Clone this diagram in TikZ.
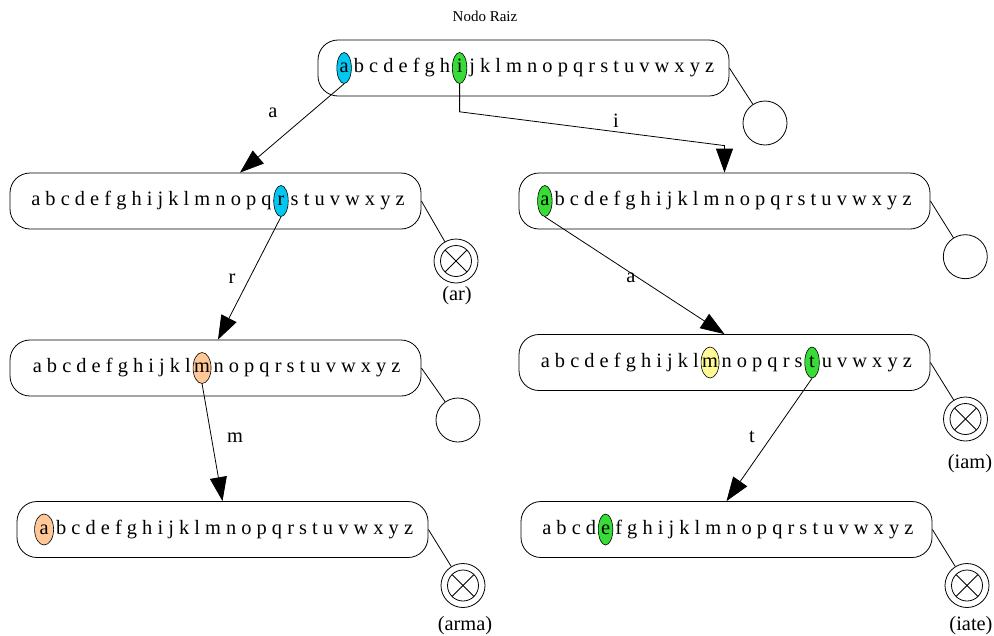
\documentclass[tikz,border=0pt]{standalone}
\usepackage{fontspec}
\setmainfont{Liberation Serif}
\usetikzlibrary{shapes.geometric,arrows.meta,calc}

\definecolor{hcyan}{RGB}{0,200,240}
\definecolor{hgreen}{RGB}{55,220,55}
\definecolor{hpeach}{RGB}{255,200,150}
\definecolor{hyellow}{RGB}{255,250,150}

\newcommand\rowfont{\fontsize{20.4}{24}\selectfont}
\newcommand\hlt[1]{\makebox[0pt]{#1}}

\begin{document}
\begin{tikzpicture}[x=1pt,y=-1pt,
  rowbox/.style={draw, line width=0.8pt, rounded corners=20pt,
    minimum width=411pt, minimum height=56pt, inner sep=0pt},
  row/.style={inner sep=0pt, font=\rowfont, anchor=base west},
  hl/.style={ellipse, draw, line width=0.6pt, minimum width=14.5pt,
    minimum height=31pt, inner sep=0pt, text height=12pt, text depth=3pt,
    font=\rowfont, anchor=base},
  wide/.style={minimum width=18pt},
  leaf/.style={circle, draw, line width=0.8pt, minimum size=44pt, inner sep=0pt},
  final/.style={leaf, path picture={
    \coordinate (pc) at (path picture bounding box.center);
    \draw[line width=0.8pt] (pc) circle[radius=15.5pt];
    \draw[line width=0.8pt] ($(pc)+(45:15.5pt)$) -- ($(pc)+(225:15.5pt)$);
    \draw[line width=0.8pt] ($(pc)+(135:15.5pt)$) -- ($(pc)+(315:15.5pt)$);}},
  link/.style={line width=0.8pt},
  edge/.style={line width=0.8pt, -{Triangle[length=24pt,width=17pt]}},
  elab/.style={font=\rowfont, inner sep=0pt},
  word/.style={font=\rowfont, inner sep=0pt},
]
\useasboundingbox (0,0) rectangle (994,635);

% title
\node[font=\fontsize{15}{18}\selectfont, inner sep=0pt] (title) at (485,16) {Nodo Raiz};

% ---------- trie nodes (boxes) ----------
\node[rowbox] (root) at (523.5,68) {};
\node[rowbox] (l1) at (215.5,201) {};
\node[rowbox] (l2) at (215.5,368) {};
\node[rowbox] (l3) at (222.5,529.5) {};
\node[rowbox] (r1) at (724.5,201) {};
\node[rowbox] (r2) at (724.5,362.5) {};
\node[rowbox] (r3) at (726.5,529.5) {};

% ---------- root row ----------
\node[hl, fill=hcyan] (ra) at ([xshift=26.5pt,yshift=-4.5pt]root.west) {\hlt{a}};
\node[row] (rt1) at ([xshift=2pt]ra.east |- ra.base) {b c d e f g h};
\node[hl, fill=hgreen] (ri) at ([xshift=9.25pt]rt1.base east) {\hlt{i}};
\node[row] (rt2) at ([xshift=2pt]ri.east |- ri.base) {j k l m n o p q r s t u v w x y z};

% ---------- left column ----------
\node[row] (l1t1) at ([xshift=21.5pt,yshift=-4.5pt]l1.west) {a b c d e f g h i j k l m n o p q};
\node[hl, fill=hcyan] (l1r) at ([xshift=9.25pt]l1t1.base east) {\hlt{r}};
\node[row] (l1t2) at ([xshift=2pt]l1r.east |- l1r.base) {s t u v w x y z};

\node[row] (l2t1) at ([xshift=23pt,yshift=-4.5pt]l2.west) {a b c d e f g h i j k l};
\node[hl, wide, fill=hpeach] (l2m) at ([xshift=11pt]l2t1.base east) {\hlt{m}};
\node[row] (l2t2) at ([xshift=2pt]l2m.east |- l2m.base) {n o p q r s t u v w x y z};

\node[hl, minimum width=19pt, fill=hpeach] (l3a) at ([xshift=27.5pt,yshift=-4.5pt]l3.west) {\hlt{a}};
\node[row] (l3t1) at ([xshift=2pt]l3a.east |- l3a.base) {b c d e f g h i j k l m n o p q r s t u v w x y z};

% ---------- right column ----------
\node[hl, fill=hgreen] (r1a) at ([xshift=26.25pt,yshift=-4.5pt]r1.west) {\hlt{a}};
\node[row] (r1t1) at ([xshift=2pt]r1a.east |- r1a.base) {b c d e f g h i j k l m n o p q r s t u v w x y z};

\node[row] (r2t1) at ([xshift=22pt,yshift=-4.5pt]r2.west) {a b c d e f g h i j k l};
\node[hl, wide, fill=hyellow] (r2m) at ([xshift=11pt]r2t1.base east) {\hlt{m}};
\node[row] (r2t2) at ([xshift=2pt]r2m.east |- r2m.base) {n o p q r s};
\node[hl, fill=hgreen] (r2t) at ([xshift=9.25pt]r2t2.base east) {\hlt{t}};
\node[row] (r2t3) at ([xshift=2pt]r2t.east |- r2t.base) {u v w x y z};

\node[row] (r3t1) at ([xshift=21.5pt,yshift=-4.5pt]r3.west) {a b c d};
\node[hl, fill=hgreen] (r3e) at ([xshift=9.25pt]r3t1.base east) {\hlt{e}};
\node[row] (r3t2) at ([xshift=2pt]r3e.east |- r3e.base) {f g h i j k l m n o p q r s t u v w x y z};

% ---------- end-of-word markers ----------
\node[leaf]  (root-end) at (765,123) {};
\node[final] (l1-end) at (456,261) {};
\node[leaf]  (l2-end) at (458,420) {};
\node[final] (l3-end) at (463,585.5) {};
\node[leaf]  (r1-end) at (965.3,256.7) {};
\node[final] (r2-end) at (965.5,419) {};
\node[final] (r3-end) at (967,585.5) {};

\node[word] (w-ar)   at (457,296) {(ar)};
\node[word] (w-arma) at (465,626) {(arma)};
\node[word] (w-iam)  at (970,464) {(iam)};
\node[word] (w-iate) at (971,626) {(iate)};

\foreach \n in {root,l1,l2,l3,r1,r2,r3}
  \draw[link] (\n.east) -- (\n-end);

% ---------- child links ----------
\draw[edge] (ra.south) -- ([xshift=24.5pt]l1.north)
  node[elab] at (273,113) {a};
\draw[edge] (ri.south) -- ++(0,28) -- ([yshift=27pt]r1.north) -- (r1.north)
  node[elab] at (616,121) {i};
\draw[edge] (l1r.south) -- ([xshift=2.5pt]l2.north)
  node[elab] at (232,279) {r};
\draw[edge] (l2m.south) -- (l3.north)
  node[elab] at (235,438) {m};
\draw[edge] (r1a.south) -- (r2.north)
  node[elab] at (631,278) {a};
\draw[edge] (r2t.south) -- (r3.north)
  node[elab] at (752,437) {t};
\end{tikzpicture}
\end{document}
